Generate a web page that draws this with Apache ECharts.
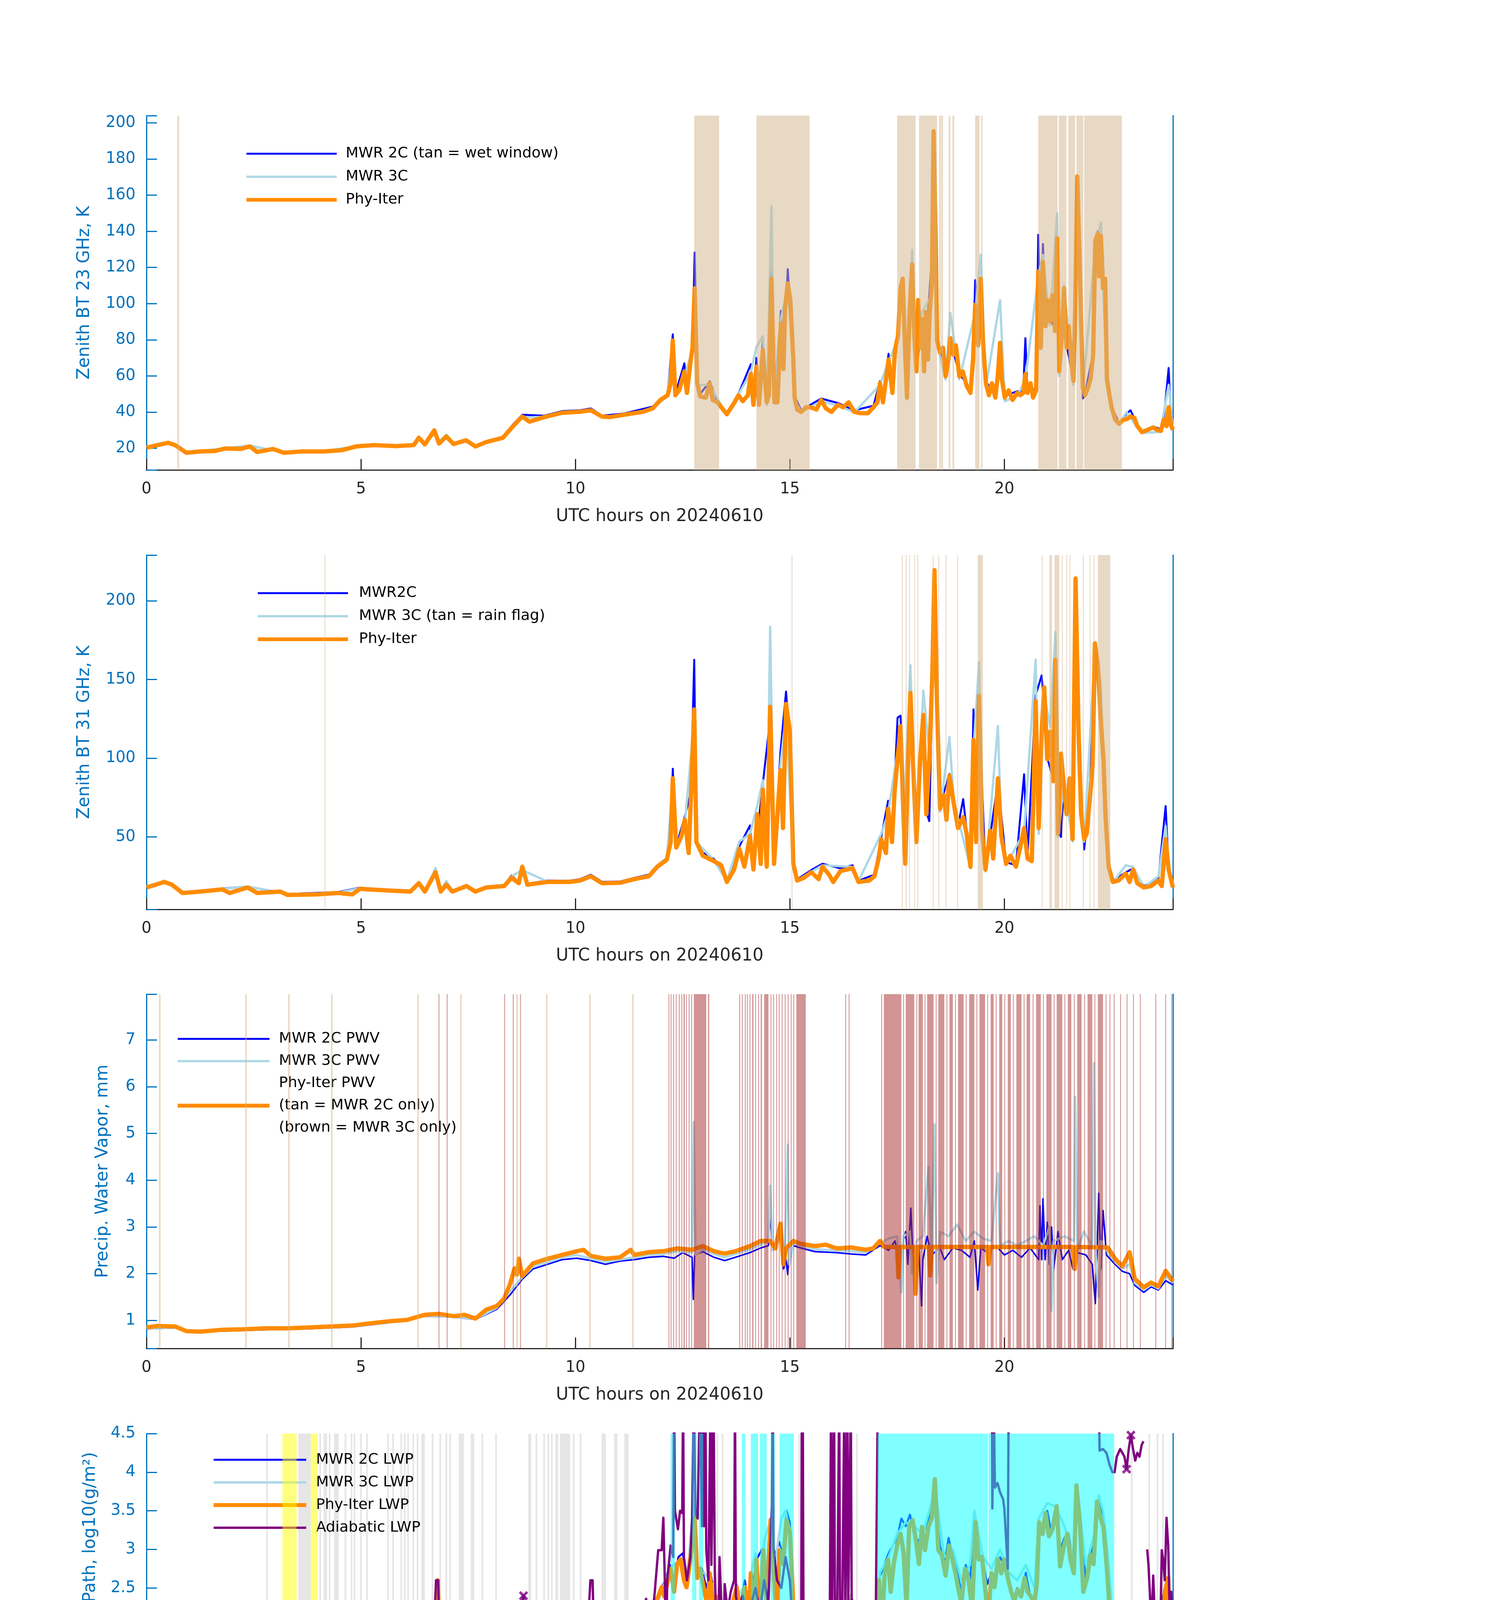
<!DOCTYPE html>
<html lang="en">
<head>
<meta charset="UTF-8">
<title>MWR Phy-Iter 20240610</title>
<style>
  html, body { margin: 0; padding: 0; background: #fff; }
  #chart { width: 3825px; height: 6000px; }
</style>
</head>
<body>
<div id="chart"></div>
<script src="https://cdn.jsdelivr.net/npm/echarts@6/dist/echarts.min.js"></script>
<script>
// ---------- panel 1: zenith BT 23 GHz ----------
var bt23Phy = [[0,20.3],[0.25,21.7],[0.5,23],[0.67,21.7],[0.93,17.5],[1.26,18.2],[1.6,18.5],[1.85,19.9],[2.19,19.6],[2.41,21],[2.58,17.9],[2.95,19.6],[3.2,17.5],[3.62,18.2],[4.13,18.2],[4.55,18.9],[4.89,21],[5.31,21.7],[5.81,21.2],[6.23,21.7],[6.35,25.8],[6.49,22.1],[6.71,29.9],[6.82,22.6],[6.99,26.5],[7.16,22.3],[7.45,24.4],[7.67,21],[7.92,23.4],[8.31,25.8],[8.54,32],[8.76,37.5],[8.93,34.7],[9.27,37.2],[9.69,39.6],[10.11,40.2],[10.36,41],[10.62,37.5],[10.8,37.2],[11.13,38.5],[11.58,40.2],[11.8,42],[11.98,46.7],[12.15,49.3],[12.22,55.9],[12.27,79.6],[12.33,49.3],[12.42,52],[12.54,62.5],[12.6,50.6],[12.69,69],[12.73,75.6],[12.78,108.5],[12.84,55.9],[12.91,48.6],[13.04,48],[13.13,55.9],[13.2,46.7],[13.31,45.4],[13.53,38.8],[13.71,45.4],[13.8,49.3],[13.9,46],[14.02,49.3],[14.09,61.1],[14.15,44],[14.22,65.1],[14.28,44],[14.37,74.3],[14.46,45.4],[14.51,49.3],[14.57,113.8],[14.64,45.4],[14.71,45.4],[14.79,88.8],[14.85,63.8],[14.89,98],[14.95,111.2],[15.01,102],[15.08,69],[15.11,48],[15.17,41.4],[15.26,40.1],[15.38,42.7],[15.48,42.7],[15.62,41.4],[15.73,46.7],[15.84,42],[15.97,40.1],[16.12,44],[16.24,42.7],[16.37,45.4],[16.5,40.1],[16.64,39.4],[16.82,39.4],[16.95,42.7],[17.04,45.4],[17.1,55.9],[17.17,45.4],[17.3,69],[17.39,50.6],[17.45,74.3],[17.52,82.2],[17.58,108.5],[17.63,113.8],[17.69,71.7],[17.73,48],[17.79,95.4],[17.85,121.7],[17.9,82.2],[17.95,62.5],[17.99,102],[18.04,75.6],[18.08,91.4],[18.13,62.5],[18.17,95.4],[18.22,69],[18.26,95.4],[18.31,111.2],[18.35,195.4],[18.4,134.8],[18.43,79.6],[18.5,73],[18.57,75.6],[18.63,59.8],[18.7,69],[18.74,80.9],[18.81,71.7],[18.87,76.9],[18.95,59.8],[19.03,62.5],[19.12,54.6],[19.21,50.6],[19.27,69],[19.32,99.3],[19.39,76.9],[19.45,113.8],[19.5,79.6],[19.57,55.9],[19.64,49.3],[19.71,55.9],[19.79,48],[19.85,61.1],[19.9,78.3],[19.94,58.5],[20.01,48],[20.1,52],[20.19,46.7],[20.3,50.6],[20.37,49.3],[20.44,50.6],[20.49,61.1],[20.54,50.6],[20.61,55.9],[20.67,48],[20.74,52],[20.79,117.7],[20.85,75.6],[20.9,123],[20.96,87.5],[21.01,102],[21.06,90.1],[21.12,104.6],[21.18,84.8],[21.23,136.2],[21.28,62.5],[21.34,82.2],[21.39,108.5],[21.45,75.6],[21.5,87.5],[21.56,69],[21.61,57.2],[21.65,95.4],[21.7,170.4],[21.75,128.3],[21.79,90.1],[21.83,53.3],[21.88,49.3],[21.95,53.3],[22.01,58.5],[22.07,71.7],[22.12,134.8],[22.18,138.8],[22.21,115.1],[22.25,137.5],[22.3,108.5],[22.35,113.8],[22.39,58.5],[22.45,49.3],[22.5,42.7],[22.58,36.1],[22.67,33.5],[22.76,35.5],[22.85,36.1],[22.94,37.5],[23.03,36.8],[23.1,32.2],[23.21,28.9],[23.34,30.2],[23.47,31.5],[23.56,30.2],[23.65,29.6],[23.72,36.1],[23.78,32.2],[23.83,42.7],[23.89,32.2],[23.93,30.2]];
var bt23Mwr2c = [[0,20.8],[0.5,23.3],[0.93,17.8],[1.6,18.8],[2.41,21.3],[3.2,17.8],[4.55,19.2],[5.31,22],[5.81,21.5],[6.23,22],[6.35,26],[6.49,22.4],[6.71,30.5],[6.82,23],[6.99,26.8],[7.16,22.7],[7.45,24.8],[7.67,21.4],[7.92,23.8],[8.31,26.3],[8.54,33],[8.76,38.5],[9.27,38],[9.69,40.5],[10.11,41],[10.36,42],[10.62,38],[11.13,39.2],[11.8,43],[12.15,50],[12.27,83],[12.33,50],[12.54,67],[12.6,51],[12.73,77],[12.78,128.3],[12.84,58],[12.91,50],[13.13,57],[13.31,46],[13.53,39.5],[13.8,50],[14.09,66.5],[14.15,45],[14.22,70],[14.28,45],[14.37,80],[14.46,46],[14.57,118],[14.64,46],[14.79,96],[14.85,65],[14.95,119],[15.08,70],[15.11,49],[15.26,41],[15.73,47.5],[16.12,45],[16.5,41],[16.95,43.5],[17.1,57],[17.17,46],[17.3,72.3],[17.39,51],[17.52,85],[17.58,110],[17.63,114],[17.69,73],[17.73,49],[17.85,118],[17.9,84],[17.95,64],[18.08,90],[18.13,64],[18.31,125],[18.35,160],[18.43,80],[18.63,61],[18.74,80],[18.95,61],[19.12,56],[19.21,52],[19.27,70],[19.32,113],[19.39,78],[19.45,110],[19.57,57],[19.79,49],[19.9,75],[20.01,49],[20.3,51.5],[20.44,51.5],[20.49,80.9],[20.54,51.5],[20.74,53],[20.79,138.1],[20.85,77],[20.9,133],[20.96,89],[21.06,92],[21.18,86],[21.23,130],[21.28,64],[21.39,106],[21.45,77],[21.61,58],[21.7,150],[21.79,91],[21.83,47.5],[21.88,50],[22.07,73],[22.12,128],[22.18,140],[22.25,135],[22.3,125],[22.39,60],[22.5,43],[22.67,34],[22.85,39],[22.94,41],[23.1,33],[23.21,29.5],[23.47,32],[23.65,30.5],[23.72,37],[23.83,64.4],[23.89,33],[23.93,38]];
var bt23Mwr3c = [[0,20.5],[0.5,23.5],[0.93,17.6],[2.41,21.5],[3.2,17.6],[4.13,18.4],[4.89,21.1],[5.31,21.9],[5.81,21.4],[6.23,21.9],[6.35,26.5],[6.49,22.3],[6.71,28],[6.82,23.5],[6.99,27.5],[7.16,22.6],[7.45,25],[7.67,21.3],[7.92,23.7],[8.31,26],[8.54,31.5],[8.76,37],[9.27,37.4],[9.69,39.4],[10.36,40.5],[10.62,37.2],[11.13,38.6],[11.8,41.8],[12.15,49],[12.27,78],[12.33,49],[12.54,60],[12.73,74],[12.78,102],[12.84,55],[13.13,55],[13.53,38.5],[14.09,62],[14.22,76],[14.37,82],[14.46,44],[14.57,153.9],[14.64,45],[14.79,92],[14.95,108],[15.08,67],[15.11,47],[15.26,40],[15.73,46],[16.12,43.5],[16.5,39.8],[17.1,55],[17.3,68],[17.52,80],[17.58,104],[17.63,108],[17.73,47],[17.85,129.6],[17.9,80],[18.08,95],[18.31,105],[18.35,140],[18.43,78],[18.63,58],[18.74,95],[18.95,58],[19.32,95],[19.45,127],[19.57,54],[19.9,101.9],[20.01,46],[20.3,49],[20.49,58],[20.79,115],[20.9,127],[21.06,88],[21.23,150],[21.28,60],[21.39,110],[21.61,55],[21.7,165],[21.79,88],[21.83,51],[22.12,132],[22.18,137],[22.25,145],[22.3,110],[22.39,57],[22.5,41],[22.67,33],[22.85,40],[23.1,31.5],[23.21,28.5],[23.65,29],[23.72,40],[23.83,55],[23.93,31]];
var wetWindow = [[0.72,0.76],[12.77,13.35],[14.22,15.46],[17.50,17.93],[18.01,18.43],[18.48,18.52],[18.53,18.57],[18.70,18.74],[18.79,18.83],[19.32,19.42],[19.46,19.49],[20.79,21.24],[21.27,21.45],[21.49,21.65],[21.68,21.84],[21.86,22.74]];

// ---------- panel 2: zenith BT 31 GHz ----------
var bt31Phy = [[0,17.9],[0.42,21.4],[0.59,19.7],[0.84,14.4],[1.26,15.3],[1.77,16.7],[1.94,14.4],[2.36,17.9],[2.58,14.4],[3.12,15.3],[3.29,13.2],[3.96,13.5],[4.47,14.4],[4.8,13.5],[4.97,17],[5.48,16.2],[6.15,15.3],[6.35,20.6],[6.49,15.3],[6.74,27.6],[6.86,15.3],[6.99,19.7],[7.13,15.3],[7.46,18.8],[7.67,15.3],[7.92,17.9],[8.34,18.8],[8.51,24.1],[8.68,20.6],[8.76,31.1],[8.88,19.7],[9.35,21.4],[9.86,21.4],[10.11,22.3],[10.36,25],[10.62,20.6],[11.04,20.9],[11.37,23.2],[11.71,25],[11.91,31.1],[12.13,35.5],[12.22,46.8],[12.27,87.2],[12.35,43.3],[12.47,50.4],[12.55,60.9],[12.64,39.8],[12.69,73.1],[12.77,131],[12.82,46.8],[12.97,38.1],[13.23,34.6],[13.4,32],[13.53,21.4],[13.7,29.3],[13.82,42.5],[13.94,31.1],[14.07,50.4],[14.15,29.3],[14.24,64.4],[14.32,32.9],[14.37,80.1],[14.46,31.1],[14.54,132.7],[14.63,32.9],[14.71,64.4],[14.78,92.4],[14.84,55.6],[14.91,134.5],[15.0,116.9],[15.08,32.9],[15.17,22.3],[15.33,24.1],[15.5,27.6],[15.67,23.2],[15.76,31.1],[15.92,25.8],[16.01,21.4],[16.18,28.4],[16.34,29.3],[16.46,30.2],[16.6,21.4],[16.85,22.3],[16.97,25],[17.07,36.3],[17.13,48.6],[17.24,39.8],[17.29,67.9],[17.38,46.8],[17.44,78.4],[17.51,99.4],[17.58,120.4],[17.65,60.9],[17.69,32.9],[17.74,81.9],[17.81,141.5],[17.88,90.7],[17.95,46.8],[18.03,95.9],[18.11,127.5],[18.18,64.4],[18.25,99.4],[18.32,152],[18.37,219.5],[18.43,134.5],[18.5,67.9],[18.59,76.6],[18.65,60.9],[18.72,88.9],[18.82,71.4],[18.92,55.6],[19.04,62.6],[19.12,52.1],[19.21,31.1],[19.28,111.7],[19.34,46.8],[19.41,139.7],[19.48,53.9],[19.56,29.3],[19.67,53.9],[19.74,36.3],[19.85,87.2],[19.93,50.4],[20.04,32.9],[20.14,38.1],[20.27,31.1],[20.37,43.3],[20.46,55.6],[20.54,36.3],[20.64,34.6],[20.73,136.2],[20.8,55.6],[20.87,116.9],[20.93,145],[21.0,99.4],[21.07,116.9],[21.14,85.4],[21.19,162.5],[21.25,52.1],[21.32,102.9],[21.39,81.9],[21.45,64.4],[21.52,87.2],[21.59,48.6],[21.66,214.2],[21.73,116.9],[21.79,64.4],[21.86,48.6],[21.92,52.1],[21.99,73.1],[22.06,95.9],[22.11,173],[22.18,159],[22.24,127.5],[22.31,99.4],[22.36,62.6],[22.43,31.1],[22.53,21.4],[22.66,22.3],[22.83,26.7],[22.92,21.4],[23.0,29.3],[23.1,20.6],[23.25,17.9],[23.42,18.8],[23.59,22.3],[23.67,18.8],[23.76,48.6],[23.83,29.3],[23.93,17.9]];
var bt31Mwr2c = [[0,18.5],[0.42,22],[0.84,15],[1.77,17.3],[2.36,18.5],[3.29,13.8],[4.47,15],[4.97,17.8],[5.48,16.8],[6.15,16],[6.35,21],[6.49,16],[6.74,27],[6.86,16],[6.99,20.2],[7.13,16],[7.46,19.2],[7.67,16],[7.92,18.5],[8.34,19.5],[8.51,25.5],[8.68,21.2],[8.76,30],[8.88,20.3],[9.35,22.3],[9.86,22.2],[10.11,23.2],[10.36,26],[10.62,21.5],[11.04,21.7],[11.37,24],[11.71,26],[11.91,32],[12.13,36.5],[12.22,48],[12.27,93.3],[12.35,44],[12.55,63],[12.69,78],[12.77,162.5],[12.82,48],[12.97,40],[13.23,36],[13.53,22.3],[13.82,44],[14.07,57.3],[14.15,30],[14.37,84],[14.54,125],[14.63,34],[14.78,104],[14.91,142.3],[15.0,110],[15.08,34],[15.17,23],[15.5,29],[15.76,33],[16.18,30],[16.46,32],[16.6,22.3],[16.97,26],[17.13,50],[17.29,73],[17.38,48],[17.51,125.7],[17.58,127],[17.65,62],[17.81,135],[17.95,48],[18.11,120],[18.18,66],[18.25,60],[18.32,145],[18.37,200],[18.43,130],[18.5,70],[18.72,90],[18.92,57],[19.04,74],[19.21,32],[19.28,131],[19.34,48],[19.41,128],[19.56,30],[19.85,85],[20.04,34],[20.27,32],[20.46,89.8],[20.54,37],[20.73,140],[20.87,152.6],[20.93,130],[21.0,100],[21.14,87],[21.19,150],[21.25,54],[21.32,50],[21.39,84],[21.59,50],[21.66,205],[21.73,118],[21.86,42],[21.99,75],[22.11,170],[22.18,160],[22.24,135],[22.36,64],[22.43,32],[22.53,22.3],[22.83,27.5],[23.0,30],[23.25,18.7],[23.59,23.5],[23.76,69.6],[23.83,30],[23.93,19]];
var bt31Mwr3c = [[0,18.2],[0.42,22.2],[0.84,14.8],[1.77,17],[2.36,18.5],[3.29,13.5],[4.47,14.6],[4.97,17.5],[5.48,16.5],[6.15,15.6],[6.35,21.5],[6.49,15.6],[6.74,30.2],[6.86,15.8],[6.99,22],[7.13,15.8],[7.46,19.5],[7.67,15.8],[7.92,18.3],[8.34,19],[8.51,25],[8.76,29],[9.35,21.6],[9.86,21.8],[10.11,22.5],[10.36,25.5],[10.62,20.9],[11.04,21.2],[11.37,23.5],[11.71,25.5],[12.13,36],[12.27,85],[12.35,44],[12.55,58],[12.77,125],[12.82,47],[13.23,35],[13.53,22],[13.82,47],[14.07,52],[14.24,70],[14.37,86],[14.46,31],[14.54,183.5],[14.63,33],[14.78,96],[14.91,128],[15.08,33],[15.17,22.5],[15.76,32],[16.46,31],[16.6,22],[17.13,52],[17.29,65],[17.51,105],[17.58,115],[17.65,58],[17.81,159],[17.88,95],[17.95,46],[18.11,143],[18.25,104],[18.37,190],[18.43,132],[18.5,66],[18.72,113.4],[18.82,73],[19.21,30],[19.28,105],[19.41,161],[19.48,52],[19.56,28],[19.85,120.4],[19.93,52],[20.04,32],[20.46,53],[20.73,162.5],[20.8,52],[20.93,140],[21.07,120],[21.19,180],[21.25,50],[21.39,85],[21.59,47],[21.66,195],[21.73,115],[21.86,47],[22.11,168],[22.24,150],[22.31,100],[22.43,30],[22.53,21],[22.83,32],[23.0,31],[23.25,18],[23.59,25],[23.76,57],[23.83,30],[23.93,18]];
var rainFlag = [[4.15,4.17],[15.04,15.06],[17.61,17.63],[17.70,17.72],[17.78,17.80],[17.90,17.92],[17.97,17.99],[18.33,18.35],[18.46,18.48],[18.63,18.65],[18.90,18.92],[19.38,19.50],[20.87,20.89],[21.05,21.11],[21.17,21.28],[21.34,21.36],[21.44,21.46],[21.52,21.54],[21.83,21.85],[21.99,22.01],[22.08,22.10],[22.18,22.47]];

// ---------- panel 3: precipitable water vapour ----------
var pwvPhy = [[0,0.85],[0.25,0.88],[0.67,0.87],[0.93,0.77],[1.26,0.76],[1.77,0.8],[2.27,0.81],[2.78,0.83],[3.29,0.83],[3.79,0.85],[4.3,0.87],[4.8,0.89],[5.14,0.93],[5.65,0.98],[6.07,1.01],[6.49,1.12],[6.82,1.14],[7.16,1.09],[7.41,1.12],[7.67,1.04],[7.92,1.23],[8.17,1.31],[8.34,1.47],[8.48,1.79],[8.58,2.11],[8.64,1.98],[8.68,2.32],[8.76,1.95],[9.01,2.22],[9.35,2.32],[9.69,2.4],[10.03,2.48],[10.19,2.51],[10.36,2.38],[10.7,2.32],[11.04,2.35],[11.29,2.51],[11.37,2.4],[11.71,2.46],[12.05,2.48],[12.38,2.54],[12.72,2.51],[12.97,2.59],[13.23,2.48],[13.48,2.43],[13.73,2.48],[14.07,2.59],[14.32,2.7],[14.54,2.7],[14.66,2.54],[14.78,3.07],[14.85,2.2],[14.91,2.54],[15.08,2.7],[15.25,2.64],[15.59,2.59],[15.84,2.62],[16.09,2.54],[16.43,2.56],[16.77,2.51],[16.94,2.54],[17.1,2.7],[17.2,2.57],[17.5,2.57],[17.53,1.92],[17.57,2.57],[17.9,2.57],[17.93,1.57],[17.97,2.57],[18.24,2.57],[18.27,1.96],[18.31,2.57],[19.6,2.57],[19.63,2.2],[19.67,2.57],[21.6,2.57],[21.64,2.1],[21.68,2.57],[22.41,2.56],[22.58,2.32],[22.75,2.16],[22.92,2.46],[23.04,1.89],[23.25,1.71],[23.42,1.81],[23.59,1.73],[23.76,2.06],[23.93,1.84]];
var pwvMwr2c = [[0,0.82],[0.67,0.84],[0.93,0.75],[1.77,0.77],[2.78,0.8],[3.79,0.82],[4.8,0.86],[5.65,0.95],[6.49,1.09],[7.16,1.07],[7.67,1.02],[8.17,1.24],[8.48,1.55],[8.76,1.88],[9.01,2.1],[9.35,2.2],[9.69,2.3],[10.03,2.33],[10.36,2.28],[10.7,2.2],[11.04,2.27],[11.37,2.3],[11.71,2.35],[12.05,2.37],[12.3,2.33],[12.5,2.45],[12.72,2.35],[12.75,1.45],[12.78,2.4],[12.97,2.47],[13.23,2.35],[13.48,2.28],[13.73,2.35],[14.07,2.45],[14.32,2.55],[14.5,2.6],[14.54,3.3],[14.6,2.5],[14.78,2.9],[14.85,2.1],[14.91,2.3],[14.95,1.98],[15.0,2.6],[15.08,2.6],[15.25,2.55],[15.59,2.47],[16.09,2.45],[16.43,2.42],[16.77,2.4],[17.1,2.6],[17.3,2.5],[17.45,2.7],[17.55,2.3],[17.7,2.9],[17.75,2.2],[17.82,3.4],[17.88,2.1],[17.93,2.6],[18.0,2.6],[18.07,1.31],[18.1,2.3],[18.2,2.8],[18.3,2.4],[18.5,2.55],[18.6,2.3],[18.8,2.55],[19.0,2.5],[19.2,2.35],[19.3,2.7],[19.38,1.65],[19.45,2.55],[19.6,2.45],[19.8,2.6],[20.0,2.4],[20.2,2.5],[20.4,2.35],[20.6,2.55],[20.8,2.3],[20.83,3.45],[20.87,2.3],[20.9,3.6],[20.95,2.3],[21.0,3.1],[21.05,2.2],[21.1,3.0],[21.15,2.1],[21.25,2.9],[21.35,2.3],[21.5,2.5],[21.6,2.1],[21.7,2.45],[21.9,2.4],[22.05,2.2],[22.12,1.36],[22.16,2.4],[22.2,3.72],[22.25,2.1],[22.3,3.35],[22.38,2.4],[22.58,2.2],[22.75,2.05],[22.92,2.0],[23.04,1.75],[23.25,1.6],[23.42,1.72],[23.59,1.65],[23.76,1.85],[23.93,1.76]];
var pwvMwr3c = [[0,0.83],[0.67,0.85],[0.93,0.76],[1.77,0.78],[2.78,0.81],[3.79,0.83],[4.8,0.87],[5.65,0.96],[6.49,1.1],[7.16,1.08],[7.67,1.03],[8.17,1.27],[8.48,1.62],[8.76,1.92],[9.01,2.15],[9.35,2.25],[9.69,2.35],[10.03,2.4],[10.36,2.32],[10.7,2.25],[11.04,2.3],[11.37,2.35],[11.71,2.4],[12.05,2.42],[12.38,2.48],[12.72,2.45],[12.76,5.24],[12.8,2.4],[12.97,2.52],[13.23,2.42],[13.48,2.35],[13.73,2.42],[14.07,2.52],[14.32,2.62],[14.5,2.7],[14.54,3.88],[14.6,2.5],[14.78,2.85],[14.88,2.3],[14.95,4.76],[14.99,2.2],[15.08,2.65],[15.25,2.6],[15.59,2.52],[16.09,2.5],[16.43,2.48],[16.77,2.45],[17.1,2.65],[17.3,2.75],[17.5,2.8],[17.6,1.6],[17.65,2.8],[17.8,2.9],[17.85,2.0],[17.95,2.7],[18.1,2.8],[18.23,4.28],[18.3,2.5],[18.37,5.19],[18.42,1.8],[18.5,2.9],[18.7,2.8],[18.9,3.05],[19.1,2.7],[19.3,2.9],[19.5,2.75],[19.7,2.7],[19.85,4.15],[19.9,2.6],[20.1,2.7],[20.3,2.6],[20.5,2.7],[20.7,2.8],[20.9,2.6],[21.05,3.0],[21.1,1.2],[21.15,2.7],[21.4,2.8],[21.62,2.7],[21.65,5.78],[21.7,2.5],[21.85,2.9],[22.05,2.6],[22.09,6.5],[22.13,2.4],[22.2,1.5],[22.25,2.7],[22.38,2.5],[22.58,2.25],[22.75,2.1],[22.92,2.2],[23.04,1.8],[23.25,1.65],[23.42,1.76],[23.59,1.68],[23.76,1.95],[23.93,1.8]];
var pwv2cOnlyTimes = [0.31, 2.32, 3.32, 4.32, 6.33, 7.33, 8.64, 9.33, 10.34, 11.34];
var pwv3cOnly = [[6.81,6.83],[7.0,7.02],[8.34,8.36],[8.54,8.56],[8.71,8.73],[12.17,12.19],[12.22,12.24],[12.28,12.3],[12.34,12.36],[12.41,12.43],[12.47,12.49],[12.52,12.55],[12.58,12.6],[12.64,12.66],[12.7,12.72],[12.76,13.05],[13.09,13.12],[13.82,13.84],[13.88,13.9],[13.95,13.97],[14.0,14.02],[14.06,14.08],[14.12,14.15],[14.19,14.21],[14.26,14.28],[14.32,14.35],[14.4,14.5],[14.55,14.57],[14.61,14.63],[14.68,14.7],[14.74,14.76],[14.81,14.83],[14.88,14.9],[14.95,14.97],[15.02,15.04],[15.08,15.1],[15.15,15.37],[16.29,16.31],[16.37,16.39],[17.13,17.15],[17.19,17.6],[17.64,17.66],[17.7,17.9],[17.95,17.97],[18.0,18.1],[18.14,18.16],[18.2,18.35],[18.4,18.42],[18.46,18.6],[18.65,18.67],[18.72,18.8],[18.85,18.87],[18.92,19.05],[19.1,19.12],[19.18,19.3],[19.35,19.37],[19.42,19.55],[19.6,19.62],[19.68,19.75],[19.8,19.82],[19.88,19.95],[20.0,20.02],[20.08,20.15],[20.2,20.22],[20.28,20.4],[20.45,20.47],[20.52,20.6],[20.66,20.68],[20.74,20.85],[20.9,20.92],[20.98,21.1],[21.15,21.17],[21.22,21.35],[21.4,21.42],[21.48,21.56],[21.62,21.64],[21.7,21.8],[21.86,21.88],[21.94,22.05],[22.1,22.12],[22.18,22.3],[22.36,22.38],[22.45,22.47],[22.55,22.57],[22.7,22.72],[22.85,22.87],[23.0,23.02],[23.16,23.18],[23.52,23.54],[23.75,23.77],[23.89,23.91]];

// ---------- panel 4: liquid water path (log10) ----------
var lwpPhy = [[0.02,1.85],[0.11,2.03],[0.23,2.09],[0.39,2.18],[0.51,2.21],[0.62,2.03],[0.74,1.94],[0.81,1.55],[0.88,1.25],[0.96,1.7],[1.06,1.55],[1.14,1.64],[1.21,1.37],[1.29,1.55],[1.41,1.19],[1.49,1.61],[1.61,1.67],[1.73,1.88],[1.84,1.76],[1.91,1.4],[1.99,1.79],[2.12,1.85],[2.24,1.91],[2.36,1.97],[2.46,1.94],[2.54,1.55],[2.62,1.28],[2.7,1.55],[2.81,0.98],[2.89,1.67],[2.99,1.7],[3.09,1.67],[3.15,0.45],[3.2,1.05],[3.3,1.08],[3.45,1.05],[3.5,-0.13],[3.55,1.1],[3.7,1.12],[3.85,1.1],[4.0,1.15],[4.17,1.25],[4.29,1.43],[4.41,1.31],[4.56,0.8],[4.68,1.25],[4.8,-0.13],[4.88,1.7],[5.0,1.88],[5.11,1.67],[5.23,1.91],[5.35,1.85],[5.47,1.97],[5.56,1.73],[5.67,1.91],[5.78,1.64],[5.86,1.88],[5.94,1.55],[6.02,1.61],[6.14,1.7],[6.26,1.46],[6.38,2.15],[6.45,1.55],[6.57,1.46],[6.69,1.61],[6.79,2.6],[6.85,1.46],[6.97,1.55],[7.03,2.18],[7.08,1.4],[7.2,1.46],[7.32,1.55],[7.4,1.4],[7.52,1.49],[7.64,1.37],[7.75,1.91],[7.83,1.4],[7.91,1.67],[8.07,1.58],[8.15,1.4],[8.3,1.55],[8.46,1.25],[8.62,1.55],[8.78,2.0],[8.86,1.85],[8.94,1.67],[9.01,1.55],[9.13,1.55],[9.25,1.79],[9.33,1.55],[9.41,1.22],[9.53,1.01],[9.64,0.8],[9.8,1.13],[9.92,1.07],[10.08,0.95],[10.2,1.37],[10.28,1.37],[10.39,1.85],[10.47,1.91],[10.55,1.37],[10.63,0.95],[10.71,0.59],[10.79,0.95],[10.86,1.1],[10.98,1.07],[11.14,1.19],[11.26,1.55],[11.38,1.79],[11.5,1.85],[11.61,1.85],[11.77,2.15],[11.93,2.39],[12.01,2.51],[12.07,2.39],[12.22,2.75],[12.3,2.45],[12.37,2.81],[12.45,2.87],[12.53,2.6],[12.59,2.51],[12.68,2.87],[12.78,3.41],[12.84,2.63],[12.91,2.75],[13.01,2.45],[13.08,2.27],[13.13,2.69],[13.21,2.27],[13.28,2.39],[13.38,2.15],[13.45,1.94],[13.53,1.64],[13.59,2.03],[13.68,2.33],[13.76,2.51],[13.85,2.18],[13.95,2.51],[14.03,2.06],[14.09,2.69],[14.16,1.97],[14.22,2.87],[14.3,2.06],[14.38,2.99],[14.46,2.27],[14.55,3.38],[14.61,2.87],[14.69,2.06],[14.76,2.99],[14.84,2.81],[14.92,3.38],[15.0,3.23],[15.07,2.39],[15.11,1.4],[15.19,1.79],[15.26,1.31],[15.34,1.97],[15.42,1.4],[15.5,1.94],[15.6,1.46],[15.69,1.97],[15.76,1.67],[15.84,1.91],[15.92,1.31],[16.01,1.91],[16.11,2.0],[16.19,1.85],[16.27,2.09],[16.34,2.03],[16.42,2.33],[16.5,2.15],[16.55,1.01],[16.61,1.4],[16.69,1.19],[16.77,1.55],[16.84,1.4],[16.92,1.16],[17.0,1.85],[17.08,2.6],[17.14,1.91],[17.21,2.69],[17.29,2.87],[17.35,2.45],[17.42,2.81],[17.5,3.05],[17.58,3.2],[17.65,2.96],[17.72,2.24],[17.78,3.29],[17.86,3.38],[17.94,3.11],[18.01,2.81],[18.08,3.29],[18.15,2.99],[18.23,3.29],[18.31,3.41],[18.38,3.91],[18.46,2.99],[18.54,2.93],[18.63,2.66],[18.71,3.05],[18.79,2.87],[18.86,2.69],[18.94,2.45],[19.0,2.3],[19.08,2.75],[19.16,2.63],[19.25,2.21],[19.33,3.35],[19.4,2.87],[19.48,2.9],[19.56,2.45],[19.62,2.09],[19.7,2.69],[19.77,2.51],[19.85,2.87],[19.93,2.69],[20.0,2.87],[20.08,2.63],[20.16,2.45],[20.23,2.33],[20.31,2.48],[20.39,2.39],[20.47,2.63],[20.54,2.45],[20.62,2.39],[20.7,2.3],[20.76,2.57],[20.81,3.35],[20.89,3.2],[20.96,3.47],[21.04,3.17],[21.12,3.26],[21.22,3.56],[21.3,2.78],[21.39,3.05],[21.47,3.2],[21.54,2.87],[21.62,2.69],[21.68,3.83],[21.76,3.35],[21.84,2.45],[21.93,2.63],[22.01,2.93],[22.08,2.81],[22.16,3.62],[22.24,3.41],[22.31,3.29],[22.39,2.75],[22.47,2.09],[22.58,1.31],[22.64,1.97],[22.74,1.76],[22.85,2.06],[22.97,2.21],[23.05,2.18],[23.1,1.97],[23.16,1.76],[23.2,1.25],[23.24,-0.14],[23.35,-0.14],[23.39,0.56],[23.43,1.76],[23.51,1.55],[23.59,1.85],[23.66,1.25],[23.74,2.45],[23.82,2.63],[23.89,1.25],[23.93,1.13]];
var lwpMwr2c = [[0.02,2.0],[0.2,2.12],[0.4,2.25],[0.55,2.22],[0.7,2.05],[0.8,1.75],[0.9,1.5],[0.95,1.85],[1.1,1.75],[1.2,1.65],[1.3,1.72],[1.45,1.6],[1.55,1.75],[1.7,1.9],[1.8,1.95],[1.9,1.7],[2.0,1.95],[2.15,1.95],[2.3,2.0],[2.4,2.08],[2.5,1.8],[2.6,1.85],[2.7,1.75],[2.8,1.85],[2.9,1.85],[3.05,1.82],[3.12,1.7],[3.2,1.42],[3.4,1.4],[3.6,1.4],[3.8,1.4],[4.0,1.43],[4.1,1.42],[4.2,1.55],[4.3,1.6],[4.4,1.65],[4.5,1.55],[4.6,1.7],[4.7,1.5],[4.8,1.55],[4.9,1.8],[5.0,1.95],[5.1,1.85],[5.2,1.9],[5.3,2.0],[5.4,1.85],[5.5,1.95],[5.6,1.75],[5.7,1.7],[5.8,1.6],[5.9,1.5],[6.0,1.55],[6.2,1.45],[6.4,1.5],[6.6,1.35],[6.8,1.45],[7.0,1.4],[7.2,1.5],[7.4,1.45],[7.6,1.4],[7.7,1.7],[7.8,1.5],[7.9,1.65],[8.1,1.55],[8.2,1.75],[8.3,1.55],[8.5,1.7],[8.6,2.0],[8.7,2.2],[8.8,2.4],[8.9,2.1],[9.0,1.6],[9.1,1.75],[9.2,1.45],[9.3,1.6],[9.4,1.2],[9.5,1.1],[9.6,0.85],[9.7,1.15],[9.8,0.95],[9.9,1.25],[10.0,1.1],[10.1,1.4],[10.2,1.7],[10.3,1.85],[10.4,1.75],[10.5,1.55],[10.6,1.05],[10.7,0.95],[10.8,0.85],[10.85,0.98],[10.9,0.9],[11.0,1.1],[11.1,1.2],[11.2,1.35],[11.3,1.5],[11.4,1.75],[11.5,1.9],[11.6,1.95],[11.7,2.1],[11.8,2.2],[11.9,2.35],[12.0,2.5],[12.1,2.6],[12.2,2.8],[12.3,2.55],[12.4,2.9],[12.5,2.95],[12.6,2.65],[12.7,2.9],[12.78,3.4],[12.85,2.7],[12.95,2.75],[13.05,2.5],[13.15,2.7],[13.25,2.4],[13.35,2.3],[13.45,1.95],[13.55,1.75],[13.65,2.2],[13.75,2.55],[13.85,2.3],[13.95,2.6],[14.05,2.2],[14.15,2.6],[14.25,2.9],[14.35,3.0],[14.45,2.4],[14.55,3.4],[14.65,2.9],[14.75,3.1],[14.85,2.9],[14.92,3.5],[15.0,3.35],[15.07,2.5],[15.12,1.8],[15.2,1.9],[15.3,1.5],[15.4,1.6],[15.5,2.05],[15.6,1.5],[15.7,2.05],[15.8,1.85],[15.9,1.35],[16.0,1.95],[16.1,2.1],[16.2,1.9],[16.3,2.15],[16.4,2.4],[16.5,2.3],[16.55,0.95],[16.6,1.3],[16.7,1.15],[16.75,0.5],[16.8,1.3],[16.9,1.5],[17.0,1.95],[17.1,2.65],[17.2,2.8],[17.3,2.95],[17.4,3.05],[17.5,3.15],[17.6,3.4],[17.7,3.3],[17.8,3.45],[17.9,3.2],[18.0,3.1],[18.1,3.2],[18.2,3.35],[18.3,3.5],[18.4,3.6],[18.5,3.05],[18.6,2.8],[18.7,3.15],[18.8,2.9],[18.9,2.7],[19.0,2.45],[19.1,2.8],[19.2,2.6],[19.3,3.4],[19.4,2.95],[19.5,2.85],[19.6,2.55],[19.7,2.7],[19.8,2.65],[19.9,2.9],[20.0,2.8],[20.1,2.6],[20.2,2.35],[20.3,2.5],[20.4,2.4],[20.5,2.7],[20.6,2.4],[20.7,2.35],[20.8,3.3],[20.9,3.3],[21.0,3.5],[21.1,3.2],[21.2,3.5],[21.3,3.0],[21.4,3.15],[21.5,3.2],[21.6,2.8],[21.7,3.7],[21.8,3.2],[21.9,2.6],[22.0,2.9],[22.1,3.1],[22.2,3.6],[22.3,3.4],[22.4,2.9],[22.5,2.3],[22.6,2.1],[22.7,2.1],[22.8,1.95],[22.9,2.2],[23.0,2.2],[23.1,2.0],[23.2,1.2],[23.25,1.0],[23.3,1.3],[23.4,1.2],[23.5,1.5],[23.6,1.9],[23.7,2.4],[23.8,2.6],[23.9,1.3],[23.93,1.1]];
var lwpMwr3c = [[0.02,1.9],[0.2,2.05],[0.4,2.2],[0.55,2.15],[0.7,2.0],[0.8,1.6],[0.9,1.3],[1.0,1.7],[1.2,1.55],[1.4,1.4],[1.6,1.7],[1.8,1.85],[2.0,1.8],[2.2,1.85],[2.4,1.95],[2.5,1.6],[2.7,1.6],[2.8,1.2],[2.9,1.7],[3.05,1.75],[3.15,1.3],[3.2,1.05],[3.4,1.08],[3.6,1.02],[3.8,1.05],[4.0,1.08],[4.1,1.0],[4.2,1.2],[4.3,1.35],[4.4,0.9],[4.5,1.1],[4.6,0.75],[4.7,1.0],[4.8,0.9],[4.9,1.25],[5.0,1.35],[5.1,1.1],[5.2,1.4],[5.3,1.2],[5.4,1.3],[5.5,1.0],[5.6,1.3],[5.7,0.9],[5.8,1.2],[5.9,1.3],[6.0,1.0],[6.1,1.4],[6.3,1.1],[6.5,1.3],[6.7,1.15],[6.9,1.3],[7.1,1.0],[7.3,1.25],[7.5,1.3],[7.6,1.6],[7.7,1.2],[7.8,1.4],[7.9,1.1],[8.0,1.5],[8.1,1.3],[8.2,1.1],[8.3,1.35],[8.4,1.15],[8.5,1.6],[8.6,1.95],[8.7,2.2],[8.8,2.35],[8.9,1.8],[9.0,1.2],[9.1,1.5],[9.2,1.1],[9.3,0.7],[9.4,0.9],[9.5,0.6],[9.6,0.7],[9.7,1.0],[9.8,0.5],[9.9,1.1],[10.0,1.0],[10.1,1.3],[10.2,1.55],[10.3,1.6],[10.4,1.5],[10.5,1.2],[10.6,0.9],[10.7,0.6],[10.8,0.3],[10.9,0.7],[11.0,0.9],[11.1,1.1],[11.2,1.25],[11.3,1.4],[11.4,1.6],[11.5,1.8],[11.6,1.9],[11.7,2.0],[11.8,2.1],[11.9,2.25],[12.0,2.45],[12.2,2.75],[12.4,2.85],[12.6,2.6],[12.75,3.6],[12.85,2.65],[13.0,2.7],[13.2,2.55],[13.4,2.0],[13.55,1.6],[13.7,2.3],[13.9,2.5],[14.0,2.25],[14.1,2.7],[14.2,2.95],[14.3,2.4],[14.4,3.1],[14.5,3.3],[14.6,2.6],[14.7,3.0],[14.8,3.4],[14.9,3.5],[15.0,3.2],[15.07,2.4],[15.15,1.9],[15.3,1.7],[15.5,2.0],[15.7,1.9],[15.9,1.6],[16.1,2.05],[16.3,2.1],[16.4,2.4],[16.5,2.2],[16.6,1.3],[16.8,1.2],[17.0,1.9],[17.1,2.7],[17.3,2.9],[17.5,3.2],[17.7,3.35],[17.9,3.3],[18.1,3.2],[18.3,3.6],[18.4,3.75],[18.6,2.9],[18.8,3.0],[19.0,2.6],[19.2,2.8],[19.3,3.5],[19.5,2.9],[19.7,2.75],[19.9,3.0],[20.1,2.7],[20.3,2.6],[20.5,2.8],[20.7,2.5],[20.8,3.4],[21.0,3.6],[21.2,3.55],[21.4,3.3],[21.6,2.9],[21.7,3.75],[21.9,2.8],[22.1,3.2],[22.2,3.7],[22.3,3.5],[22.4,3.0],[22.5,2.3],[22.6,2.0],[22.7,2.1],[22.85,2.2],[23.0,1.9],[23.1,1.8],[23.2,1.0],[23.3,0.7],[23.4,1.3],[23.5,1.6],[23.6,2.0],[23.7,2.3],[23.8,2.1],[23.9,1.0],[23.93,0.9]];
var lwpAdiabatic = [[0.02,1.95],[0.15,2.05],[0.3,2.15],[0.45,2.25],[0.55,2.15],[0.65,2.15],[0.75,1.9],[0.82,1.5],[0.88,1.2],[0.95,1.6],[1.05,1.65],[1.15,1.4],[1.25,1.6],[1.35,1.5],[1.45,1.7],[1.55,1.55],[1.65,1.75],[1.75,1.9],[1.85,1.75],[1.95,1.8],[2.05,1.75],[2.2,1.85],[2.35,1.95],[2.45,1.85],[2.55,1.35],[2.65,1.55],[2.75,1.3],[2.85,1.0],[2.95,1.6],[3.05,1.55],[3.12,1.4],[3.18,1.1],[3.3,1.1],[3.5,1.12],[3.55,1.55],[3.6,1.1],[3.8,1.1],[4.0,1.15],[4.1,1.15],[4.2,1.2],[4.3,1.15],[4.4,1.15],[4.5,1.1],[4.55,1.7],[4.6,1.15],[4.7,1.2],[4.75,1.6],[4.8,1.15],[4.9,1.2],[5.0,1.55],[5.05,1.8],[5.1,1.3],[5.2,1.4],[5.3,1.2],[5.4,1.35],[5.5,1.25],[5.55,1.75],[5.6,1.3],[5.7,1.3],[5.75,1.85],[5.8,1.4],[5.9,1.3],[6.0,1.45],[6.1,1.55],[6.2,1.1],[6.3,2.3],[6.35,1.3],[6.45,1.35],[6.55,1.5],[6.65,1.2],[6.75,2.6],[6.8,2.6],[6.85,1.3],[6.95,1.4],[7.05,1.1],[7.15,2.2],[7.2,1.3],[7.3,1.5],[7.35,1.1],[7.45,2.25],[7.5,1.2],[7.6,1.15],[7.7,1.3],[7.8,1.15],[7.9,1.15],[8.0,1.2],[8.1,1.15],[8.2,1.2],[8.3,1.35],[8.4,1.2],[8.5,1.3],[8.6,1.4],[8.7,1.5],[8.78,2.4],[8.85,1.4],[8.9,1.6],[8.95,0.92],[9.0,1.3],[9.1,1.2],[9.2,1.1],[9.25,1.13],[9.3,1.25],[9.4,1.1],[9.5,1.05],[9.6,1.1],[9.7,1.2],[9.8,1.1],[9.9,1.3],[10.0,1.5],[10.1,1.7],[10.2,1.8],[10.27,1.8],[10.35,2.6],[10.4,2.6],[10.45,1.5],[10.5,1.2],[10.6,1.05],[10.7,0.75],[10.8,1.0],[10.9,1.2],[11.0,1.4],[11.1,1.2],[11.2,1.5],[11.3,1.6],[11.42,2.0],[11.47,1.16],[11.53,2.18],[11.65,2.36],[11.69,1.49],[11.77,2.0],[11.85,2.45],[11.93,2.99],[12.01,2.99],[12.05,3.41],[12.09,2.45],[12.11,1.4],[12.14,2.6],[12.22,3.05],[12.28,2.9],[12.3,5],[12.32,3.5],[12.39,3.26],[12.44,3.5],[12.49,3.47],[12.51,5],[12.53,2.9],[12.6,2.6],[12.68,2.9],[12.72,3.4],[12.76,5],[12.8,3.45],[12.85,3.4],[12.9,5],[12.95,3.3],[12.98,5],[13.0,3.3],[13.03,5],[13.05,3.0],[13.1,2.6],[13.15,5],[13.17,2.8],[13.22,5],[13.25,2.7],[13.32,1.32],[13.36,2.9],[13.4,2.3],[13.44,1.32],[13.48,2.55],[13.55,2.2],[13.62,2.45],[13.7,2.6],[13.72,5],[13.74,2.4],[13.8,2.2],[13.9,2.4],[14.0,2.1],[14.1,2.3],[14.2,2.5],[14.3,2.2],[14.4,2.6],[14.5,2.3],[14.58,3.59],[14.6,5],[14.62,3.0],[14.7,2.6],[14.8,2.5],[14.9,2.9],[15.0,2.6],[15.1,1.7],[15.2,1.9],[15.26,1.0],[15.28,5],[15.3,5],[15.32,1.5],[15.4,1.8],[15.5,1.6],[15.6,1.9],[15.7,1.5],[15.8,1.8],[15.92,1.15],[15.96,5],[15.98,2.0],[16.03,5],[16.05,2.2],[16.1,2.0],[16.15,5],[16.17,2.1],[16.22,2.2],[16.27,5],[16.29,2.0],[16.34,5],[16.36,2.2],[16.42,5],[16.44,2.33],[16.5,2.2],[16.55,1.0],[16.6,1.7],[16.65,1.3],[16.7,1.8],[16.78,1.1],[16.85,1.6],[16.92,1.2],[17.0,2.0],[17.05,5],[19.71,5],[19.72,3.53],[19.75,5],[19.78,3.8],[19.84,3.86],[19.9,3.74],[19.97,3.65],[20.0,3.53],[20.08,2.75],[20.1,5],[22.2,5],[22.22,4.28],[22.3,4.3],[22.38,4.25],[22.45,4.1],[22.52,4.0],[22.57,4.0],[22.62,4.2],[22.7,4.3],[22.8,4.2],[22.85,4.04],[22.9,4.3],[22.95,4.48],[23.0,4.3],[23.05,4.15],[23.1,4.25],[23.15,4.2],[23.2,4.35],[23.24,4.4],[23.28,null],[23.33,3.0],[23.36,2.8],[23.43,2.0],[23.47,2.66],[23.51,2.1],[23.59,1.4],[23.63,1.85],[23.67,2.99],[23.7,2.87],[23.74,2.6],[23.78,3.41],[23.82,3.05],[23.86,2.0],[23.89,2.45],[23.93,1.55]];
var lwpAdiabaticX = [[3.18,1.1],[7.6,1.16],[7.91,1.16],[8.0,1.16],[8.15,1.16],[8.79,2.4],[8.94,0.92],[9.0,0.92],[9.25,1.13],[10.27,1.8],[22.85,4.04],[22.95,4.48]];
var lwpPhyX = [[4.56,0.8],[7.93,1.65],[8.07,1.41],[8.11,1.58],[8.79,1.98],[8.98,1.71],[9.25,1.77],[9.39,1.23],[10.27,1.37],[22.83,1.77],[22.87,2.06],[22.93,2.21]];
var lwpYellow = [[3.17,3.50],[3.83,3.99]];
var lwpCyan = [[12.22,12.32],[12.72,12.82],[12.88,12.98],[13.88,13.96],[14.09,14.26],[14.30,14.46],[14.55,14.65],[14.76,15.09],[17.04,19.61],[19.63,22.56]];
var lwpGray = [[2.79,2.83],[3.54,3.83],[4.03,4.07],[4.13,4.21],[4.25,4.29],[4.37,4.48],[4.62,4.66],[4.76,4.8],[4.83,4.87],[4.98,5.02],[5.12,5.16],[5.61,5.65],[5.73,5.77],[5.92,5.96],[6.0,6.04],[6.08,6.12],[6.2,6.24],[6.3,6.34],[6.41,6.49],[6.65,6.69],[6.83,6.87],[6.97,7.01],[7.06,7.1],[7.28,7.4],[7.56,7.64],[7.81,7.85],[8.13,8.17],[8.9,8.97],[9.07,9.11],[9.25,9.29],[9.35,9.39],[9.43,9.47],[9.53,9.6],[9.64,9.88],[9.94,9.98],[10.1,10.14],[10.61,10.71],[10.9,10.98],[11.14,11.24],[13.29,13.33],[13.41,13.45],[15.2,15.3],[16.54,16.58],[22.95,22.99],[23.36,23.4],[23.55,23.59],[23.68,23.72]];

// ---------- panel 5: DQ flag ----------
// [flag, start hour, end hour]
var dqFlagRuns = [[0,0,3.2],[0,4.63,6.49],[0,6.66,8.85],[0,8.95,9.29],[0,9.39,9.69],[0,9.82,10.87],[0,11.04,12.3],[0,12.39,12.72],[0,12.89,13.9],[0,13.99,14.1],[0,14.24,14.32],[0,14.66,14.74],[0,15.08,17.05],[0,22.55,23.93],
  [4,3.45,3.84],[4,3.96,4.8],[4,5.91,6.15],[4,6.37,6.66],[4,6.82,7.08],[4,7.28,7.36],[4,7.55,7.75],[4,8.09,8.17],[4,8.85,8.95],[4,9.22,10.11],[4,10.53,10.7],[4,10.84,11.21],[4,13.31,13.43],[4,15.08,15.33],[4,16.51,16.6],[4,23.85,23.93],
  [5,3.12,3.62],[5,3.79,4.1],
  [6,12.27,12.47],[6,12.64,12.89],[6,14.53,14.61],[6,14.86,15.08],[6,17.41,22.41],
  [7,17.44,22.41],
  [9,14.16,14.24],[9,14.83,15.08],[9,17.05,18.87],[9,19.0,19.1],[9,19.2,19.43],[9,19.8,19.88],[9,20.56,21.57],[9,21.74,22.41],
  [10,12.22,12.3],[10,12.72,12.98],[10,14.1,14.44],[10,14.83,15.08],[10,17.05,18.92],[10,19.0,19.46],[10,19.8,19.97],[10,20.34,22.45],
  [11,12.22,12.35],[11,12.72,13.0],[11,13.87,13.99],[11,14.07,14.44],[11,14.53,14.66],[11,14.74,15.08],[11,17.02,22.55]];
var dqFlagDots = [[3.54,0],[4.21,0],[4.38,0],[4.52,0],[2.78,4],[5.1,4],[5.6,4],[5.81,4],[7.89,4],[12.05,4],[22.92,4],[23.34,4],[23.51,4],[4.55,3],[4.77,3],[5.1,3],[5.93,3],[7.58,3],[9.22,3],[9.47,3],[23.4,3],[23.5,3],[13.9,6],[14.2,6],[14.37,6],[14.78,6],[16.4,6],[17.27,6],[23.17,6],[23.93,6],[14.78,7],[15.08,7],[22.92,7],[12.76,9],[13.9,9],[14.37,9],[14.58,9],[20.44,9],[13.9,10],[14.58,10]];

// ---------- styling ----------
var FONT = 'DejaVu Sans';
var AXIS_BLUE = '#0072BD';
var DARK = '#262626';
var C2 = '#0000FF', C3 = '#ADD8E6', CPHY = '#FF8C00', CADI = '#800080';
var TAN = 'rgba(210,180,140,0.5)';
var BROWN = 'rgba(165,42,42,0.5)';
var CROSS = 'path://M2,0L5,3L8,0L10,2L7,5L10,8L8,10L5,7L2,10L0,8L3,5L0,2Z';

var gridTops = [296, 1421, 2545, 3670, 4795];
var yAxes = [
  {min: 8, max: 204, split: 10, step: 20, name: 'Zenith BT 23 GHz, K', gap: 136},
  {min: 4, max: 229, split: 5, step: 50, name: 'Zenith BT 31 GHz, K', gap: 136},
  {min: 0.4, max: 7.98, split: 8, step: 1, name: 'Precip. Water Vapor, mm', gap: 89},
  {min: -0.09, max: 4.5, split: 9, step: 0.5, name: 'log10 Liquid Water Path, log10(g/m\u00B2)', gap: 121},
  {min: -0.5, max: 11.5, split: 6, step: 2, name: 'MWR Phy Iter DQ Flag', gap: 112}
];

function tickFmt(step) {
  return function (v) {
    var k = v / step;
    return Math.abs(k - Math.round(k)) < 1e-6 ? String(+v.toFixed(2)) : '';
  };
}

function lineSeries(name, idx, data, color, width, z) {
  return {
    name: name, type: 'line', xAxisIndex: idx, yAxisIndex: idx, data: data,
    symbol: 'none', showSymbol: false, connectNulls: false, silent: true, z: z,
    lineStyle: {color: color, width: width, join: 'round'}, itemStyle: {color: color}
  };
}

// shaded time windows; the markArea z decides whether they sit over or under the lines
function bandSeries(idx, intervals, color, z) {
  return {
    type: 'line', xAxisIndex: idx, yAxisIndex: idx, data: [], z: z, silent: true,
    markArea: {
      silent: true, z: z, itemStyle: {color: color},
      data: intervals.map(function (b) { return [{xAxis: b[0]}, {xAxis: b[1]}]; })
    }
  };
}

function timesToBands(times, half) {
  return times.map(function (t) { return [t - half, t + half]; });
}

function crossSeries(idx, data, color) {
  return {type: 'scatter', xAxisIndex: idx, yAxisIndex: idx, data: data, symbol: CROSS,
    symbolSize: 24, itemStyle: {color: color}, silent: true, z: 6};
}

var runData = [];
dqFlagRuns.forEach(function (r) {
  runData.push([r[1], r[0]], [r[2], r[0]], [r[2], null]);
});

var grids = [], xAxis = [], yAxis = [];
gridTops.forEach(function (top, i) {
  grids.push({left: 375, right: 822, top: top, height: 907, containLabel: false, outerBoundsMode: 'none'});
  xAxis.push({
    type: 'value', gridIndex: i, min: 0, max: 23.93, splitNumber: 5,
    name: 'UTC hours on 20240610', nameLocation: 'middle', nameGap: 98,
    nameTextStyle: {fontFamily: FONT, fontSize: 44, color: DARK},
    axisLine: {show: true, onZero: false, lineStyle: {color: DARK, width: 3}},
    axisTick: {show: true, inside: true, length: 28, lineStyle: {color: DARK, width: 3}},
    axisLabel: {formatter: tickFmt(5), fontFamily: FONT, fontSize: 40, color: DARK, margin: 30},
    splitLine: {show: false}
  });
});
yAxes.forEach(function (a, i) {
  yAxis.push({
    type: 'value', gridIndex: i, position: 'left', min: a.min, max: a.max, splitNumber: a.split,
    name: a.name, nameLocation: 'middle', nameGap: a.gap,
    nameTextStyle: {fontFamily: FONT, fontSize: 44, color: AXIS_BLUE},
    axisLine: {show: true, onZero: false, lineStyle: {color: AXIS_BLUE, width: 3}},
    axisTick: {show: true, inside: true, length: 27, lineStyle: {color: AXIS_BLUE, width: 3}},
    axisLabel: {formatter: tickFmt(a.step), fontFamily: FONT, fontSize: 40, color: AXIS_BLUE, margin: 28},
    splitLine: {show: false}
  });
});
yAxes.forEach(function (a, i) {
  yAxis.push({
    type: 'value', gridIndex: i, position: 'right', min: a.min, max: a.max,
    axisLine: {show: true, onZero: false, lineStyle: {color: AXIS_BLUE, width: 3}},
    axisTick: {show: false}, axisLabel: {show: false}, splitLine: {show: false}
  });
});

// legend icon: a plain bar of the line's thickness (aspect kept, so it fills the width)
function legendItem(name, color, thick) {
  return {name: name, icon: 'path://M0,0H240V' + thick + 'H0Z', itemStyle: {color: color, borderWidth: 0}};
}

function legendAt(left, top, width, lineH, pad, items) {
  return {
    orient: 'vertical', left: left, top: top, itemWidth: width, itemHeight: 16, itemGap: 0,
    selectedMode: false, padding: 0, symbolKeepAspect: true,
    textStyle: {fontFamily: FONT, fontSize: 38, color: '#000', lineHeight: lineH, padding: [0, 0, 0, pad]},
    data: items
  };
}

var NAME_PWV_PHY = 'Phy-Iter PWV\n(tan = MWR 2C only)\n(brown = MWR 3C only)';

var option = {
  animation: false,
  backgroundColor: '#fff',
  grid: grids,
  xAxis: xAxis,
  yAxis: yAxis,
  legend: [
    legendAt(631, 364, 231, 59, 18, [legendItem('MWR 2C (tan = wet window)', C2, 5), legendItem('MWR 3C', C3, 6), legendItem('Phy-Iter', CPHY, 10)]),
    legendAt(660, 1489, 231, 59, 23, [legendItem('MWR2C', C2, 5), legendItem('MWR 3C (tan = rain flag)', C3, 6), legendItem('Phy-Iter ', CPHY, 10)]),
    legendAt(455, 2631, 235, 57, 19, [legendItem('MWR 2C PWV', C2, 5), legendItem('MWR 3C PWV', C3, 6), legendItem(NAME_PWV_PHY, CPHY, 10)]),
    legendAt(547, 3708, 237, 58, 20, [legendItem('MWR 2C LWP', C2, 5), legendItem('MWR 3C LWP', C3, 6), legendItem('Phy-Iter LWP', CPHY, 10), legendItem('Adiabatic LWP', CADI, 6)])
  ],
  series: [
    // panel 1
    lineSeries('MWR 2C (tan = wet window)', 0, bt23Mwr2c, C2, 5, 2),
    lineSeries('MWR 3C', 0, bt23Mwr3c, C3, 6, 3),
    lineSeries('Phy-Iter', 0, bt23Phy, CPHY, 11, 4),
    bandSeries(0, wetWindow, TAN, 10),
    // panel 2
    lineSeries('MWR2C', 1, bt31Mwr2c, C2, 5, 2),
    lineSeries('MWR 3C (tan = rain flag)', 1, bt31Mwr3c, C3, 6, 3),
    lineSeries('Phy-Iter ', 1, bt31Phy, CPHY, 11, 4),
    bandSeries(1, rainFlag, TAN, 10),
    // panel 3
    lineSeries('MWR 2C PWV', 2, pwvMwr2c, C2, 4, 2),
    lineSeries('MWR 3C PWV', 2, pwvMwr3c, C3, 6, 3),
    lineSeries(NAME_PWV_PHY, 2, pwvPhy, CPHY, 11, 4),
    bandSeries(2, timesToBands(pwv2cOnlyTimes, 0.018), TAN, 10),
    bandSeries(2, pwv3cOnly, BROWN, 10),
    // panel 4
    bandSeries(3, lwpGray, '#E6E6E6', 1),
    lineSeries('MWR 2C LWP', 3, lwpMwr2c, C2, 5, 2),
    lineSeries('MWR 3C LWP', 3, lwpMwr3c, C3, 6, 3),
    lineSeries('Phy-Iter LWP', 3, lwpPhy, CPHY, 11, 4),
    lineSeries('Adiabatic LWP', 3, lwpAdiabatic, CADI, 6, 5),
    crossSeries(3, lwpPhyX, CPHY),
    crossSeries(3, lwpAdiabaticX, CADI),
    bandSeries(3, lwpYellow, 'rgba(255,255,0,0.5)', 10),
    bandSeries(3, lwpCyan, 'rgba(0,255,255,0.5)', 10),
    // panel 5
    {type: 'line', xAxisIndex: 4, yAxisIndex: 4, data: runData, symbol: 'none', connectNulls: false,
      silent: true, z: 3, lineStyle: {color: CPHY, width: 11, cap: 'round'}},
    {type: 'scatter', xAxisIndex: 4, yAxisIndex: 4, data: dqFlagDots, symbol: 'circle', symbolSize: 11,
      silent: true, z: 3, itemStyle: {color: CPHY}}
  ]
};

var chart = echarts.init(document.getElementById('chart'));
chart.setOption(option);
</script>
</body>
</html>
